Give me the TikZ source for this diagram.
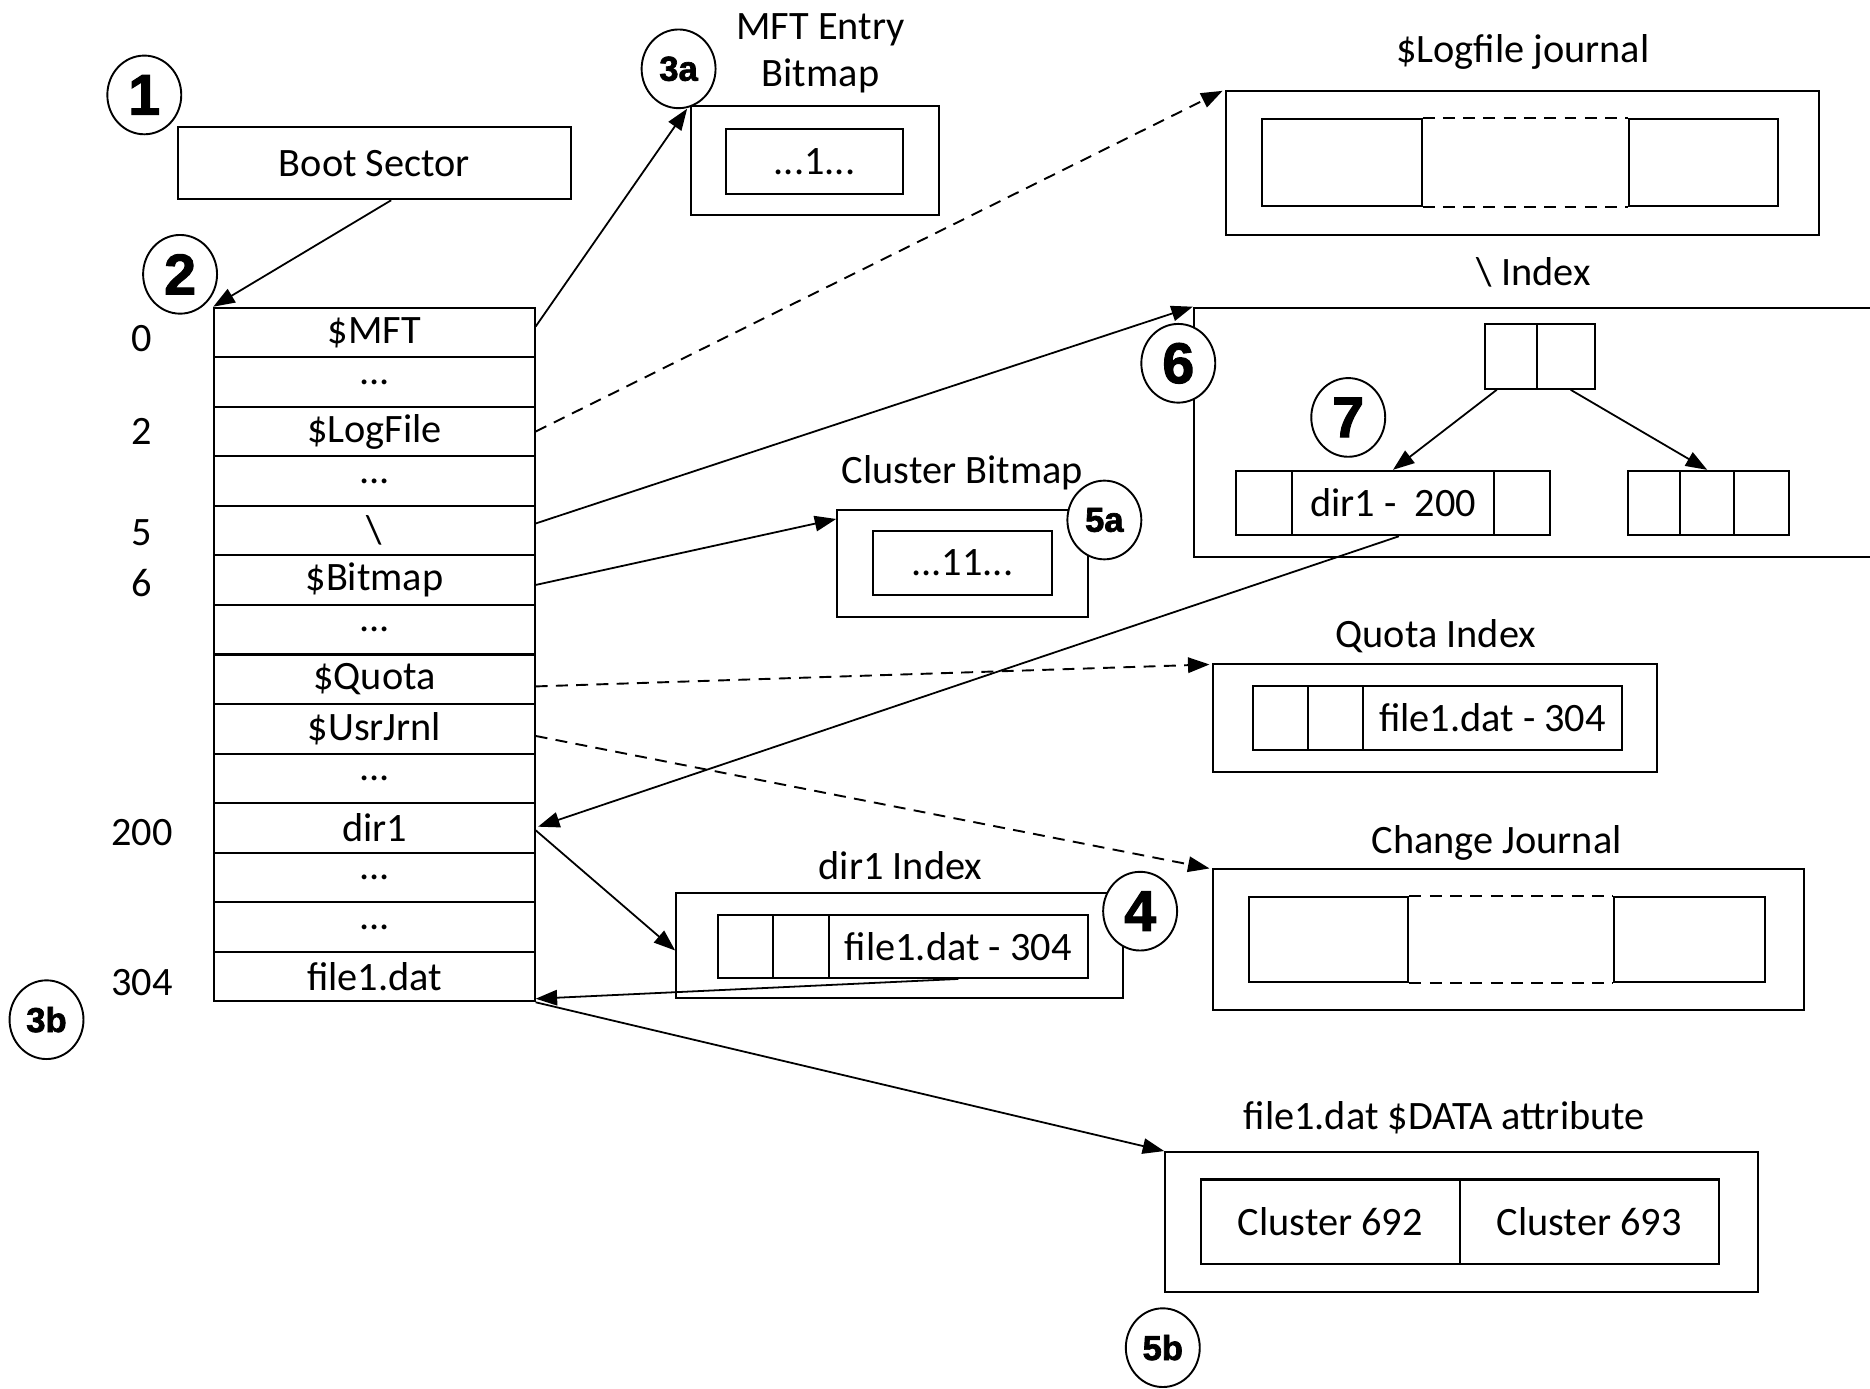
\documentclass[tikz,border=0pt]{standalone}
\usepackage{fontspec}
\setmainfont{Carlito}
\newfontfamily\circfont{Liberation Sans}[BoldFeatures={FakeBold=2}]
\usetikzlibrary{arrows.meta,shapes.geometric,calc}

\newcommand\mftdots{...}

\tikzset{
  sz/.style 2 args={minimum width=#1*0.5pt, minimum height=#2*0.5pt},
  txt/.style={font=\fontsize{16.9}{19.5}\selectfont},
  cell/.style={draw, line width=0.85pt, inner sep=0pt, txt},
  lbl/.style={inner sep=0pt, align=center, txt},
  badge/.style={ellipse, draw, fill=white, line width=0.8pt, inner sep=0pt,
    minimum width=31pt, minimum height=33pt,
    font=\circfont\bfseries\fontsize{24}{24}\selectfont},
  badgesm/.style={badge, font=\circfont\bfseries\fontsize{14.5}{14.5}\selectfont},
  conn/.style={line width=0.75pt, -{Triangle[length=9pt,width=6.5pt]}},
  dconn/.style={conn, line width=0.8pt, dash pattern=on 5pt off 3.5pt},
  link/.style={line width=0.85pt, dash pattern=on 5pt off 3.5pt},
}

\begin{document}
\begin{tikzpicture}[x=0.5pt, y=-0.5pt]
\useasboundingbox (0,0) rectangle (1568,1164);

% boot sector
\node[cell, sz={330}{60.5}] (boot) at (314,136.8) {Boot Sector};

% MFT entries
\foreach \i/\t in {1/\$MFT, 2/\mftdots, 3/\$LogFile, 4/\mftdots, 5/\textbackslash,
    6/\$Bitmap, 7/\mftdots, 8/\$Quota, 9/\$UsrJrnl, 10/\mftdots, 11/dir1,
    12/\mftdots, 13/\mftdots, 14/file1.dat}
  \node[cell, sz={268.6}{41.54}] (r\i) at (314,{258+41.54*(\i-0.5)}) {\t};

% entry numbers
\node[lbl] (n0)   at (119,284) {0};
\node[lbl] (n2)   at (119,362) {2};
\node[lbl] (n5)   at (119,447) {5};
\node[lbl] (n6)   at (119,489) {6};
\node[lbl] (n200) at (119,698) {200};
\node[lbl] (n304) at (119,824) {304};

% MFT entry bitmap
\node[lbl] (mfttitle) at (688,44.5) {MFT Entry\\Bitmap};
\node[cell, sz={208}{91}] (mftbm) at (683,134.5) {};
\node[cell, sz={148}{55}] (mftbmin) at (683,135.5) {...1...};

% $LogFile journal
\node[lbl] (logtitle) at (1277,43.5) {\$Logfile journal};
\node[cell, sz={497}{121}] (logbox) at (1276.5,136.5) {};
\node[cell, sz={134}{73}] (logA) at (1125,136.5) {};
\node[cell, sz={125}{73}] (logC) at (1428.5,136.5) {};
\draw[link] (logA.north east) -- (logC.north west);
\draw[link] (logA.south east) -- (logC.south west);

% root directory index
\node[lbl] (idxtitle) at (1286,228) {\textbackslash\ Index};
\node[cell, sz={579}{209}] (idxbox) at (1290.5,362.5) {};
\node[cell, sz={44}{54}] (topA) at (1267,299) {};
\node[cell, sz={48}{54}] (topB) at (1313,299) {};
\node[cell, sz={47}{54}] (lfA) at (1059.5,421.8) {};
\node[cell, sz={170}{54}] (lfB) at (1168,421.8) {dir1 -\ \ 200};
\node[cell, sz={47}{54}] (lfC) at (1276.5,421.8) {};
\node[cell, sz={44}{54}] (rtA) at (1387,421.8) {};
\node[cell, sz={45}{54}] (rtB) at (1431.5,421.8) {};
\node[cell, sz={46}{54}] (rtC) at (1477,421.8) {};

% cluster bitmap
\node[lbl] (cbtitle) at (807,396) {Cluster Bitmap};
\node[cell, sz={210}{89}] (cbm) at (807,472.5) {};
\node[cell, sz={150}{54}] (cbmin) at (807,472) {...11...};

% quota index
\node[lbl] (qtitle) at (1204,533.5) {Quota Index};
\node[cell, sz={372}{90}] (qbox) at (1203,602) {};
\node[cell, sz={46}{54}] (qA) at (1074,602) {};
\node[cell, sz={46}{54}] (qB) at (1120,602) {};
\node[cell, sz={217}{54}] (qC) at (1251.5,602) {file1.dat - 304};

% change journal
\node[lbl] (cjtitle) at (1255,706.5) {Change Journal};
\node[cell, sz={496}{118}] (cjbox) at (1265,788) {};
\node[cell, sz={134}{71}] (cjA) at (1114,787.5) {};
\node[cell, sz={127}{71}] (cjC) at (1416.5,787.5) {};
\draw[link] (cjA.north east) -- (cjC.north west);
\draw[link] (cjA.south east) -- (cjC.south west);

% dir1 index
\node[lbl] (d1title) at (755,725.5) {dir1 Index};
\node[cell, sz={375}{88}] (d1box) at (754.5,793) {};
\node[cell, sz={46}{53}] (d1A) at (625,793.5) {};
\node[cell, sz={47}{53}] (d1B) at (671.5,793.5) {};
\node[cell, sz={217}{53}] (d1C) at (803.5,793.5) {file1.dat - 304};

% data attribute
\node[lbl] (datatitle) at (1211,937.5) {file1.dat \$DATA attribute};
\node[cell, sz={497}{117}] (databox) at (1225.5,1024.5) {};
\node[cell, sz={217}{71}] (dA) at (1115.5,1024.5) {Cluster 692};
\node[cell, sz={217}{71}] (dB) at (1332.5,1024.5) {Cluster 693};

% connectors
\draw[conn] ([xshift=7pt]boot.south) -- (r1.north west);
\draw[conn] ([yshift=2.5pt]r1.east) -- ([xshift=-1pt,yshift=-1.5pt]mftbm.north west);
\draw[dconn] (r3.east) -- ([xshift=-1pt,yshift=-0.5pt]logbox.north west);
\draw[conn] ([yshift=3pt]r5.east) -- (idxbox.north west);
\draw[conn] ([yshift=-2pt]r6.east) -- ([yshift=-4pt]cbm.north west);
\draw[dconn] ([yshift=-3pt]r8.east) -- ([xshift=-1pt,yshift=-0.5pt]qbox.north west);
\draw[dconn] ([yshift=-3pt]r9.east) -- ([xshift=-1pt]cjbox.north west);
\draw[conn] ([xshift=2.5pt]lfB.south) -- ([xshift=1pt,yshift=0.5pt]r11.east);
\draw[conn] ([yshift=-1pt]r11.east) -- ([yshift=-2pt]d1box.west);
\draw[conn] (d1C.south) -- ([yshift=1.5pt]r14.south east);
\draw[conn] (r14.south east) -- (databox.north west);
\draw[conn] ([xshift=-6pt]topA.south) -- (lfB.north);
\draw[conn] ([xshift=2pt]topB.south) -- (rtB.north);

% step markers
\node[badge] (s1) at (121,79.6) {1};
\node[badge] (s2) at (151,230) {2};
\node[badgesm] (s3a) at (569,57.7) {3a};
\node[badgesm] (s3b) at (39,855) {3b};
\node[badge] (s4) at (956,764) {4};
\node[badgesm] (s5a) at (926,436) {5a};
\node[badgesm] (s5b) at (975,1130) {5b};
\node[badge] (s6) at (988,304.6) {6};
\node[badge] (s7) at (1130.5,350) {7};
\end{tikzpicture}
\end{document}
